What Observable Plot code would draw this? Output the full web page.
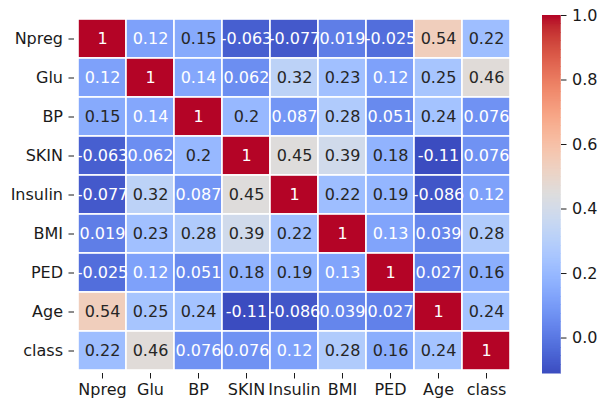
<!DOCTYPE html>
<html><head><meta charset="utf-8">
<script src="https://cdn.jsdelivr.net/npm/d3@7"></script>
<script src="https://cdn.jsdelivr.net/npm/@observablehq/plot@0.6"></script>
<style>
body{margin:0;background:#fff}
#chart{position:relative;width:598px;height:404px;overflow:hidden}
#chart svg{position:absolute;top:0}
</style>
</head><body><div id="chart"></div>
<script>
const labels = ["Npreg","Glu","BP","SKIN","Insulin","BMI","PED","Age","class"];
const rowNpreg   = [1, 0.12, 0.15, -0.063, -0.077, 0.019, -0.025, 0.54, 0.22];
const rowGlu     = [0.12, 1, 0.14, 0.062, 0.32, 0.23, 0.12, 0.25, 0.46];
const rowBP      = [0.15, 0.14, 1, 0.2, 0.087, 0.28, 0.051, 0.24, 0.076];
const rowSKIN    = [-0.063, 0.062, 0.2, 1, 0.45, 0.39, 0.18, -0.11, 0.076];
const rowInsulin = [-0.077, 0.32, 0.087, 0.45, 1, 0.22, 0.19, -0.086, 0.12];
const rowBMI     = [0.019, 0.23, 0.28, 0.39, 0.22, 1, 0.13, 0.039, 0.28];
const rowPED     = [-0.025, 0.12, 0.051, 0.18, 0.19, 0.13, 1, 0.027, 0.16];
const rowAge     = [0.54, 0.25, 0.24, -0.11, -0.086, 0.039, 0.027, 1, 0.24];
const rowClass   = [0.22, 0.46, 0.076, 0.076, 0.12, 0.28, 0.16, 0.24, 1];
const rows = [rowNpreg,rowGlu,rowBP,rowSKIN,rowInsulin,rowBMI,rowPED,rowAge,rowClass];
const colorDomain = [-0.11, 1];
const barTicks = [0, 0.2, 0.4, 0.6, 0.8, 1.0];
const coolwarmStops = [
 [59,76,192],[68,90,204],[77,104,215],[87,117,225],[98,130,234],[108,142,241],[119,154,247],[130,165,251],
 [141,176,254],[152,185,255],[163,194,255],[174,201,253],[184,208,249],[194,213,244],[204,217,238],[213,219,230],
 [221,221,221],[229,216,209],[236,211,197],[241,204,185],[245,196,173],[247,187,160],[247,177,148],[247,166,135],
 [244,154,123],[241,141,111],[236,127,99],[229,112,88],[222,96,77],[213,80,66],[203,62,56],[192,40,47],[180,4,38]
].map(([r,g,b]) => `rgb(${r},${g},${b})`);

const interp = d3.piecewise(d3.interpolateRgb, coolwarmStops);
const colorOpts = {type: "linear", domain: colorDomain, interpolate: interp};
const colorScale = Plot.scale({color: colorOpts});

function lum(c) {
  const rgb = d3.rgb(c);
  const f = v => { v /= 255; return v <= 0.03928 ? v / 12.92 : Math.pow((v + 0.055) / 1.055, 2.4); };
  return 0.2126 * f(rgb.r) + 0.7152 * f(rgb.g) + 0.0722 * f(rgb.b);
}

const data = [];
labels.forEach((r, i) => rows[i].forEach((v, j) => data.push({row: r, col: labels[j], v, label: String(v)})));

const font = "DejaVu Sans, sans-serif";
const heat = Plot.plot({
  width: 530, height: 404,
  marginLeft: 74, marginRight: 16, marginTop: 15, marginBottom: 31,
  style: {fontFamily: font, fontSize: "16px", color: "#1a1a1a", background: "transparent"},
  x: {domain: labels, padding: 0, label: null, tickSize: 5.5, tickPadding: 5},
  y: {domain: labels, padding: 0, label: null, tickSize: 5.5, tickPadding: 6},
  color: colorOpts,
  marks: [
    Plot.cell(data, {x: "col", y: "row", fill: "v", stroke: "white", strokeWidth: 1.6}),
    Plot.text(data, {x: "col", y: "row", text: "label", fontSize: 16,
      fill: d => lum(colorScale.apply(d.v)) > 0.408 ? "#262626" : "#ffffff"})
  ]
});
heat.style.left = "0px";

const steps = d3.range(0, 400).map(i => {
  const a = colorDomain[0] + (colorDomain[1] - colorDomain[0]) * i / 400;
  const b = colorDomain[0] + (colorDomain[1] - colorDomain[0]) * (i + 1) / 400;
  return {y1: a, y2: b, v: (a + b) / 2};
});
const bar = Plot.plot({
  width: 68, height: 404,
  marginLeft: 12, marginRight: 38, marginTop: 15, marginBottom: 31,
  style: {fontFamily: font, fontSize: "16px", color: "#1a1a1a", background: "transparent"},
  x: {domain: [0, 1], axis: null},
  y: {domain: colorDomain, axis: "right", ticks: barTicks, tickFormat: d3.format(".1f"), label: null, tickSize: 5.5, tickPadding: 6},
  color: colorOpts,
  marks: [
    Plot.rect(steps, {x1: 0, x2: 1, y1: "y1", y2: "y2", fill: "v", shapeRendering: "crispEdges", stroke: "v", strokeWidth: 0.5})
  ]
});
bar.style.left = "530px";

const chart = document.getElementById("chart");
chart.append(heat, bar);
</script>
</body></html>
